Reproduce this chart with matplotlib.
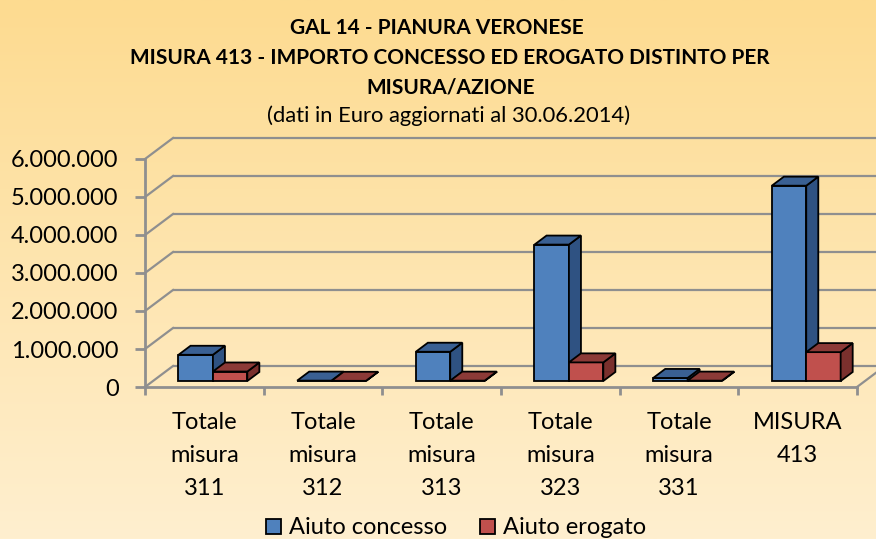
import numpy as np
import matplotlib
matplotlib.use("Agg")
import matplotlib.pyplot as plt
from matplotlib.patches import Polygon
from matplotlib.colors import LinearSegmentedColormap
from matplotlib import transforms

# ---------------- data ----------------
categories = ["Totale\nmisura\n311", "Totale\nmisura\n312", "Totale\nmisura\n313",
              "Totale\nmisura\n323", "Totale\nmisura\n331", "MISURA\n413"]
aiuto_concesso = [690000, 10000, 770000, 3590000, 80000, 5140000]
aiuto_erogato = [250000, 5000, 10000, 490000, 10000, 760000]
series_names = ["Aiuto concesso", "Aiuto erogato"]
yticks = [0, 1000000, 2000000, 3000000, 4000000, 5000000, 6000000]
ytick_labels = ["0", "1.000.000", "2.000.000", "3.000.000", "4.000.000", "5.000.000", "6.000.000"]
title_lines = ["GAL 14 - PIANURA VERONESE",
               "MISURA 413 - IMPORTO CONCESSO ED EROGATO DISTINTO PER",
               "MISURA/AZIONE"]
subtitle = "(dati in Euro aggiornati al 30.06.2014)"

# ---------------- style ----------------
W, H = 876, 539
FONT = ["Lato", "DejaVu Sans"]
plt.rcParams["font.family"] = FONT
GRID = "#8f8f8f"
face_cols = {"front": ["#4f81bd", "#c0504d"],
             "top": ["#3a6093", "#8c3a37"],
             "side": ["#2f5282", "#7a302d"]}

fig = plt.figure(figsize=(W / 100, H / 100), dpi=100)

# background gradient
bg = fig.add_axes([0, 0, 1, 1], zorder=0)
cmap = LinearSegmentedColormap.from_list("bg", ["#ffefcf", "#fddb90"])
bg.imshow(np.linspace(0, 1, 256).reshape(-1, 1), cmap=cmap, aspect="auto",
          extent=[0, 1, 0, 1], origin="lower")
bg.axis("off")

# plot area (front plane)
x0px, x1px, y0px, y1px = 145, 857, 387, 159
ax = fig.add_axes([x0px / W, 1 - y0px / H, (x1px - x0px) / W, (y0px - y1px) / H], zorder=1)
ax.patch.set_visible(False)
n = len(categories)
ax.set_xlim(-0.5, n - 0.5)
ax.set_ylim(0, 6000000)

# depth vector (px) -> data units
DEPTH_PX = (28, 21)
ux = (n) / (x1px - x0px)
uy = 6000000 / (y0px - y1px)
DXu, DYu = DEPTH_PX[0] * ux, DEPTH_PX[1] * uy

# back wall grid + side diagonals
for v in yticks:
    ax.plot([-0.5 + DXu, n - 0.5 + DXu], [v + DYu, v + DYu], color=GRID, lw=1.6,
            clip_on=False, zorder=1, solid_capstyle="butt")
    ax.plot([-0.5, -0.5 + DXu], [v, v + DYu], color=GRID, lw=1.6, clip_on=False, zorder=1)
ax.plot([n - 0.5, n - 0.5 + DXu], [0, DYu], color=GRID, lw=1.6, clip_on=False, zorder=1)

# axes spines / ticks
for s in ["top", "right"]:
    ax.spines[s].set_visible(False)
for s in ["left", "bottom"]:
    ax.spines[s].set_color(GRID)
    ax.spines[s].set_linewidth(2)
ax.set_yticks(yticks)
ax.set_yticklabels(ytick_labels)
ax.tick_params(axis="y", direction="out", length=7, width=2, color=GRID,
               labelsize=17, pad=12)
ax.set_xticks(range(n))
ax.set_xticklabels(categories, linespacing=1.72)
ax.set_xticks(np.arange(-0.5, n, 1), minor=True)
ax.tick_params(axis="x", which="major", length=0, labelsize=17, pad=18)
ax.tick_params(axis="x", which="minor", direction="out", length=6, width=2, color=GRID)

# 3D-looking bars
t0, t1 = 0.285, 0.715
front_tr = ax.transData + transforms.ScaledTranslation(
    t0 * DEPTH_PX[0] / 100, t0 * DEPTH_PX[1] / 100, fig.dpi_scale_trans)
d = t1 - t0
bw = 0.29
xs = np.arange(n)
handles = []
for k, (vals, name) in enumerate(zip([aiuto_concesso, aiuto_erogato], series_names)):
    left = xs - 0.285 + k * bw
    bars = ax.bar(left, vals, width=bw, align="edge", color=face_cols["front"][k],
                  edgecolor="black", linewidth=1.3, label=name, zorder=3)
    handles.append(bars)
    for i, p in enumerate(bars.patches):
        p.set_transform(front_tr)
        p.set_clip_on(False)
        p.set_zorder(3 + i * 4 + k * 2)
        xl, xr, h = left[i], left[i] + bw, vals[i]
        top = Polygon([(xl, h), (xr, h), (xr + d * DXu, h + d * DYu), (xl + d * DXu, h + d * DYu)],
                      closed=True, facecolor=face_cols["top"][k], edgecolor="black",
                      linewidth=1.3, transform=front_tr, clip_on=False, zorder=3 + i * 4 + k * 2 + 0.5)
        side = Polygon([(xr, 0), (xr + d * DXu, d * DYu), (xr + d * DXu, h + d * DYu), (xr, h)],
                       closed=True, facecolor=face_cols["side"][k], edgecolor="black",
                       linewidth=1.3, transform=front_tr, clip_on=False, zorder=3 + i * 4 + k * 2 + 0.5)
        ax.add_patch(side)
        ax.add_patch(top)

# titles
tx = [437, 450, 451]
ty = [34, 64, 93]
for line, x, y in zip(title_lines, tx, ty):
    fig.text(x / W, 1 - y / H, line, ha="center", va="baseline", fontsize=15,
             fontweight="bold", color="black")
fig.text(449 / W, 1 - 122 / H, subtitle, ha="center", va="baseline", fontsize=15.8, color="black")

# legend
leg = fig.legend(handles=handles, labels=series_names, loc="center",
                 bbox_to_anchor=(456 / W, 1 - 528 / H), ncol=2, frameon=False,
                 fontsize=17, handlelength=0.62, handleheight=0.62,
                 handletextpad=0.35, columnspacing=1.4, borderaxespad=0, borderpad=0)

fig.savefig("out.png", dpi=100)
